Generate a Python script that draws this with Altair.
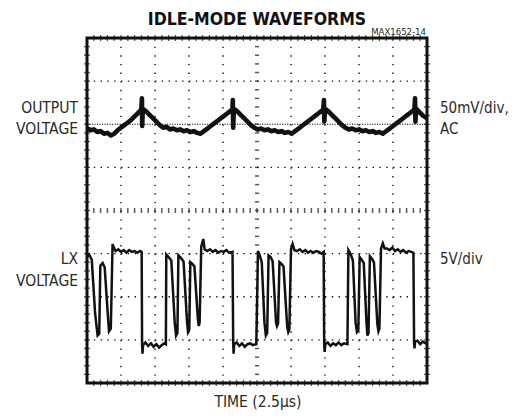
import altair as alt
import pandas as pd

# ---------------- text ----------------
TITLE = "IDLE-MODE WAVEFORMS"
FIG_ID = "MAX1652-14"
X_LABEL = "TIME (2.5µs)"
OUT_LABEL = ["OUTPUT", "VOLTAGE"]
LX_LABEL = ["LX", "VOLTAGE"]
OUT_SCALE = ["50mV/div,", "AC"]
LX_SCALE = ["5V/div"]

# ---------------- scope settings ----------------
US_PER_DIV = 2.5      # time base
MV_PER_DIV = 50       # output channel (AC coupled)
V_PER_DIV = 5         # LX channel
OUT_ZERO_DIV = 6      # screen division of output channel ground marker
LX_ZERO_DIV = 1       # screen division of LX channel ground marker

# ---------------- output voltage ripple (µs, mV) ----------------
out_t = [0.0, 0.25, 0.5, 0.75, 1.0, 1.25, 1.5, 1.75, 2.0, 2.25, 2.5, 2.75, 3.0, 3.25, 3.5, 3.75, 3.95, 4.0, 4.04, 4.06, 4.1,
         4.35, 4.6, 4.85, 5.1, 5.35, 5.6, 5.85, 6.1, 6.35, 6.6, 6.85, 7.1, 7.35, 7.6, 7.85, 8.1, 8.35, 8.6, 8.85, 9.1, 9.35,
         9.6, 9.85, 10.1, 10.35, 10.6, 10.7, 10.72, 10.75, 10.8, 11.05, 11.3, 11.55, 11.8, 12.05, 12.3, 12.55, 12.8, 13.05,
         13.3, 13.55, 13.8, 14.05, 14.3, 14.55, 14.8, 15.05, 15.3, 15.55, 15.8, 16.05, 16.3, 16.55, 16.8, 17.05, 17.3, 17.38,
         17.42, 17.45, 17.5, 17.75, 18.0, 18.25, 18.5, 18.75, 19.0, 19.25, 19.5, 19.75, 20.0, 20.25, 20.5, 20.75, 21.0, 21.25,
         21.5, 21.75, 22.0, 22.25, 22.5, 22.75, 23.0, 23.25, 23.5, 23.75, 24.0, 24.08, 24.12, 24.15, 24.2, 24.45, 24.7, 25.0]
out_mv = [-4.5, -7, -6, -9, -8, -11, -10, -13, -11, -7, -4, -1, 2, 5, 9, 13, 16, 19, 30, -2, 18,
          15, 11, 7, 3, -1, -4, -3, -6, -5, -7, -6, -8, -7, -9, -8, -10, -11, -8, -5, -2, 1,
          4, 7, 10, 13, 16, 18, 28, -4, 18, 15, 11, 7, 3, -1, -4, -6, -5, -7,
          -6, -8, -7, -9, -8, -10, -9, -11, -8, -5, -2, 1, 4, 7, 10, 13, 16, 18,
          28, 3, 18, 15, 11, 7, 3, -1, -4, -6, -5, -7, -6, -8, -7, -9, -8, -10,
          -9, -11, -8, -5, -2, 1, 4, 7, 10, 13, 16, 18, 30, 3, 18, 14, 10, 7]

# ---------------- LX switching node (µs, V) ----------------
lx_t = [0.0, 0.15, 0.35, 0.6, 0.78, 0.9, 0.98, 1.15, 1.3, 1.55, 1.62, 1.75, 1.88, 1.95, 2.1,
        2.3, 2.5, 2.7, 2.9, 3.1, 3.3, 3.5, 3.7, 3.9, 4.02,
        4.05, 4.08, 4.12, 4.3, 4.5, 4.7, 4.9, 5.1, 5.3, 5.5, 5.7, 5.8,
        5.83, 6.0, 6.2, 6.45, 6.55, 6.65, 6.72, 6.9, 7.1, 7.35, 7.43, 7.52, 7.6, 7.75, 7.9, 8.15, 8.22, 8.28, 8.4, 8.55, 8.65,
        8.85, 9.05, 9.25, 9.45, 9.65, 9.85, 10.05, 10.25, 10.45, 10.7,
        10.75, 10.78, 10.82, 11.0, 11.2, 11.4, 11.6, 11.8, 12.0, 12.2, 12.45,
        12.57, 12.7, 12.85, 13.05, 13.15, 13.25, 13.35, 13.5, 13.65, 13.9, 13.97, 14.05, 14.15, 14.3, 14.45, 14.72, 14.8, 14.88,
        15.0, 15.12, 15.25,
        15.45, 15.65, 15.85, 16.05, 16.25, 16.45, 16.65, 16.85, 17.05, 17.25, 17.4,
        17.44, 17.47, 17.52, 17.7, 17.9, 18.1, 18.3, 18.5, 18.7, 18.9, 19.15,
        19.22, 19.4, 19.55, 19.75, 19.85, 19.95, 20.05, 20.2, 20.35, 20.55, 20.62, 20.7, 20.8, 20.95, 21.1, 21.35, 21.43, 21.5,
        21.62, 21.75, 21.88,
        22.05, 22.25, 22.45, 22.65, 22.85, 23.05, 23.25, 23.45, 23.65, 23.85, 24.0,
        24.05, 24.08, 24.12, 24.3, 24.5, 24.7, 24.9, 25.0]
lx_v = [9.6, 9.9, 9.3, 3.0, 0.5, 0.7, 8.6, 8.9, 8.4, 2.5, 1.0, 1.3, 11.1, 10.8, 10.3,
        10.5, 10.2, 10.4, 10.1, 10.4, 10.2, 10.3, 10.1, 10.3, 10.2,
        -0.5, -1.6, -0.6, -0.3, -0.7, -0.4, -0.8, -0.5, -0.9, -0.6, -0.4, -0.5,
        9.9, 9.6, 9.2, 2.0, 0.5, 0.8, 9.8, 9.5, 9.1, 2.2, 0.9, 1.2, 9.0, 8.8, 8.5, 2.5, 1.6, 2.0, 10.8, 11.7, 10.5,
        10.3, 10.5, 10.2, 10.4, 10.1, 10.3, 10.2, 10.4, 10.1, 10.2,
        -0.4, -1.6, -0.5, -0.3, -0.7, -0.4, -0.8, -0.5, -0.4, -0.6, -0.5,
        10.3, 9.8, 9.0, 2.0, 0.5, 0.8, 9.8, 9.6, 9.1, 2.0, 1.6, 1.9, 9.0, 8.8, 8.5, 1.5, 0.9, 1.2,
        10.5, 11.1, 10.4,
        10.3, 10.5, 10.2, 10.4, 10.1, 10.3, 10.1, 10.3, 10.2, 10.0, 10.2,
        -0.4, -1.4, -0.5, -0.3, -0.7, -0.4, -0.6, -0.3, -0.6, -0.4, -0.5,
        10.4, 9.9, 9.2, 2.0, 0.9, 1.1, 9.6, 9.3, 8.9, 2.0, 0.5, 0.8, 9.7, 9.4, 9.0, 1.8, 1.0, 1.3,
        10.6, 11.2, 10.6,
        10.6, 10.4, 10.7, 10.3, 10.5, 10.2, 10.4, 10.1, 10.3, 10.2, 10.1,
        -0.3, -1.0, -0.2, -0.1, -0.5, -0.2, -0.4, -0.3]

# ---------------- build tables ----------------
out_df = pd.DataFrame({"t": out_t, "d": [OUT_ZERO_DIV + v / MV_PER_DIV for v in out_mv]})
lx_df = pd.DataFrame({"t": lx_t, "d": [LX_ZERO_DIV + v / V_PER_DIV for v in lx_v]})

N_XDIV, N_YDIV = 10, 8
W, H = 340, 345
T_MAX = N_XDIV * US_PER_DIV

xs = alt.Scale(domain=[0, T_MAX], nice=False, zero=False)
ys = alt.Scale(domain=[0, N_YDIV], nice=False, zero=False)
X = lambda f: alt.X(f, type="quantitative", scale=xs, axis=None)
Y = lambda f: alt.Y(f, type="quantitative", scale=ys, axis=None)

INK = "#111111"
TXT = "#2a2a2a"
FONT = "DejaVu Sans Condensed, Liberation Sans, sans-serif"

# graticule
vgrid = pd.DataFrame({"t": [US_PER_DIV * k for k in range(1, N_XDIV) if k != N_XDIV // 2]})
hgrid = pd.DataFrame({"d": [k for k in range(1, N_YDIV) if k not in (N_YDIV // 2, OUT_ZERO_DIV)]})
minor_x = pd.DataFrame({"t": [US_PER_DIV * k / 5 for k in range(1, N_XDIV * 5)]})
minor_y = pd.DataFrame({"d": [k / 5 for k in range(1, N_YDIV * 5)]})

layers = []
layers.append(alt.Chart(vgrid).mark_rule(color=INK, strokeWidth=1.4, strokeDash=[1.4, 7.225]).encode(
    x=X("t"), y=alt.value(0), y2=alt.value(H)))
layers.append(alt.Chart(hgrid).mark_rule(color=INK, strokeWidth=1.4, strokeDash=[1.4, 5.4]).encode(
    y=Y("d"), x=alt.value(0), x2=alt.value(W)))
layers.append(alt.Chart(pd.DataFrame({"d": [OUT_ZERO_DIV]})).mark_rule(
    color=INK, strokeWidth=1.2, strokeDash=[1.2, 1.3]).encode(y=Y("d"), x=alt.value(0), x2=alt.value(W)))
# centre lines with minor ticks
layers.append(alt.Chart(minor_x).mark_tick(color=INK, orient="vertical", size=5, thickness=1.5).encode(
    x=X("t"), y=alt.value(H / 2)))
layers.append(alt.Chart(minor_y).mark_tick(color=INK, orient="horizontal", size=4, thickness=1.5).encode(
    y=Y("d"), x=alt.value(W / 2)))
# minor ticks along the frame
for yv in (0, H):
    layers.append(alt.Chart(minor_x).mark_tick(color=INK, orient="vertical", size=6, thickness=1.3).encode(
        x=X("t"), y=alt.value(yv)))
for xv in (0, W):
    layers.append(alt.Chart(minor_y).mark_tick(color=INK, orient="horizontal", size=6, thickness=1.3).encode(
        y=Y("d"), x=alt.value(xv)))

# traces
layers.append(alt.Chart(out_df).mark_line(color=INK, strokeWidth=4.6, clip=True, strokeJoin="round").encode(
    x=X("t"), y=Y("d"), order="t:Q"))
layers.append(alt.Chart(lx_df).mark_line(color=INK, strokeWidth=2.5, clip=True).encode(
    x=X("t"), y=Y("d"), order="t:Q"))


def label(text, x, y, align="left", size=15.5, weight="normal", color=TXT):
    return alt.Chart(pd.DataFrame({"a": [0]})).mark_text(
        align=align, baseline="alphabetic", fontSize=size, fontWeight=weight, font=FONT, color=color
    ).encode(x=alt.value(x), y=alt.value(y), text=alt.value(text))


layers.append(label(TITLE, W / 2, -13.5, align="center", size=17.5, weight="bold", color="#111111"))
layers.append(label(FIG_ID, W - 1, -3, align="right", size=9.5))
layers.append(label(OUT_LABEL[0], -9, 75, align="right"))
layers.append(label(OUT_LABEL[1], -9, 96, align="right"))
layers.append(label(LX_LABEL[0], -9, 226, align="right"))
layers.append(label(LX_LABEL[1], -9, 248, align="right"))
layers.append(label(OUT_SCALE[0], 353, 75, size=15))
layers.append(label(OUT_SCALE[1], 353, 96, size=15))
layers.append(label(LX_SCALE[0], 353, 226, size=15))
layers.append(label(X_LABEL, W / 2 + 1, 369, align="center"))

chart = alt.layer(*layers).properties(
    width=W, height=H,
    padding={"left": 79, "top": 30, "right": 84, "bottom": 28},
    autosize=alt.AutoSizeParams(type="none"),
).configure_view(stroke=INK, strokeWidth=3)

chart.save("out.html", embed_options={"renderer": "svg", "actions": False})
